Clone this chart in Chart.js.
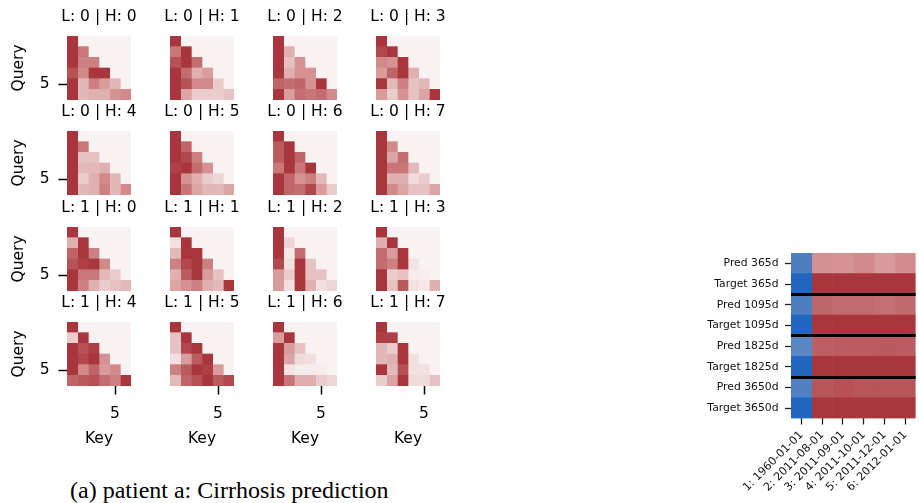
<!DOCTYPE html>
<html>
<head>
<meta charset="utf-8">
<script src="https://cdn.jsdelivr.net/npm/chart.js@4/dist/chart.umd.min.js"></script>
<style>
  html, body { margin: 0; padding: 0; background: #fff; }
  body { width: 919px; height: 503px; position: relative; overflow: hidden; }
  canvas { position: absolute; }
  #caption {
    position: absolute; left: 70px; top: 478px;
    font-family: "Liberation Serif", serif; font-size: 24px; line-height: 1;
    white-space: nowrap; color: #000;
  }
</style>
</head>
<body>
<div id="caption">(a) patient a: Cirrhosis prediction</div>
<script>
// ---- attention maps: query rows x key columns (lower triangle, causal) ----
const queryLabels = ['1', '2', '3', '4', '5', '6'];
const keyLabels = ['1', '2', '3', '4', '5', '6'];
const shownQueryTick = '5';
const shownKeyTick = '5';

const attnL0H0 = [[1.00], [1.00, 0.65], [1.00, 0.60, 0.60], [0.85, 0.55, 1.00, 1.00], [1.00, 0.30, 0.60, 0.45, 0.30], [1.00, 0.30, 0.35, 0.35, 0.50, 0.55]];
const attnL0H1 = [[1.00], [0.65, 1.00], [0.85, 1.00, 0.70], [1.00, 0.70, 0.35, 0.45], [1.00, 0.85, 0.55, 0.55, 0.20], [1.00, 0.40, 0.20, 0.20, 0.20, 0.25]];
const attnL0H2 = [[1.00], [1.00, 0.35], [1.00, 0.25, 0.50], [1.00, 0.35, 0.50, 0.50], [0.75, 0.70, 0.75, 0.50, 1.00], [1.00, 0.45, 0.70, 0.65, 0.70, 0.55]];
const attnL0H3 = [[1.00], [0.90, 1.00], [0.55, 0.50, 1.00], [0.45, 0.75, 1.00, 0.35], [1.00, 0.30, 0.60, 0.25, 0.30], [0.45, 0.20, 0.50, 0.25, 0.40, 1.00]];
const attnL0H4 = [[1.00], [1.00, 0.65], [1.00, 0.25, 0.25], [1.00, 0.30, 0.30, 0.35], [1.00, 0.20, 0.35, 0.55, 0.30], [1.00, 0.30, 0.35, 0.60, 0.30, 0.55]];
const attnL0H5 = [[1.00], [1.00, 0.75], [1.00, 0.90, 0.60], [0.95, 1.00, 0.70, 0.50], [1.00, 0.50, 0.35, 0.20, 0.15], [1.00, 0.65, 0.40, 0.30, 0.30, 0.40]];
const attnL0H6 = [[1.00], [0.80, 1.00], [0.80, 1.00, 0.75], [0.65, 1.00, 0.65, 1.00], [1.00, 0.75, 0.50, 0.60, 0.30], [1.00, 0.75, 0.70, 0.90, 0.45, 0.20]];
const attnL0H7 = [[1.00], [1.00, 0.55], [1.00, 0.40, 0.70], [1.00, 0.65, 0.65, 0.30], [1.00, 0.35, 0.35, 0.12, 0.20], [1.00, 0.55, 0.40, 0.25, 0.25, 0.40]];
const attnL1H0 = [[1.00], [0.35, 1.00], [0.75, 1.00, 0.60], [0.85, 0.95, 1.00, 0.55], [1.00, 0.65, 0.65, 0.30, 0.20], [1.00, 0.60, 0.35, 0.20, 0.25, 0.30]];
const attnL1H1 = [[1.00], [0.10, 1.00], [0.30, 1.00, 1.00], [0.60, 0.90, 1.00, 0.60], [0.35, 0.80, 1.00, 0.45, 0.25], [0.40, 0.50, 0.60, 0.35, 0.30, 1.00]];
const attnL1H2 = [[1.00], [1.00, 0.15], [1.00, 0.05, 0.70], [0.90, 0.10, 1.00, 0.25], [0.45, 0.20, 1.00, 0.25, 0.25], [0.45, 0.10, 1.00, 0.35, 0.10, 0.15]];
const attnL1H3 = [[1.00], [0.35, 1.00], [0.70, 0.45, 1.00], [0.70, 0.60, 1.00, 0.08], [1.00, 0.20, 0.25, 0.03, 0.02], [1.00, 0.25, 0.80, 0.08, 0.05, 0.35]];
const attnL1H4 = [[1.00], [0.20, 1.00], [1.00, 0.85, 0.95], [1.00, 0.90, 1.00, 0.50], [1.00, 0.55, 0.75, 0.45, 0.55], [0.75, 0.80, 0.85, 0.70, 0.60, 1.00]];
const attnL1H5 = [[1.00], [0.25, 1.00], [0.25, 0.90, 1.00], [0.10, 0.45, 0.80, 1.00], [0.60, 0.80, 1.00, 0.95, 0.45], [0.30, 0.75, 0.85, 1.00, 0.80, 0.90]];
const attnL1H6 = [[1.00], [0.45, 1.00], [1.00, 0.45, 0.25], [1.00, 0.40, 0.12, 0.10], [1.00, 0.08, 0.03, 0.03, 0.03], [1.00, 0.65, 0.35, 0.35, 0.20, 0.15]];
const attnL1H7 = [[1.00], [0.95, 0.95], [0.30, 0.20, 1.00], [0.30, 0.35, 1.00, 0.10], [1.00, 0.30, 0.85, 0.10, 0.10], [0.20, 0.40, 1.00, 0.12, 0.12, 0.25]];

const attention = [
  [attnL0H0, attnL0H1, attnL0H2, attnL0H3, attnL0H4, attnL0H5, attnL0H6, attnL0H7],
  [attnL1H0, attnL1H1, attnL1H2, attnL1H3, attnL1H4, attnL1H5, attnL1H6, attnL1H7]
];

// ---- outcome heatmap: predictions vs targets per horizon, per visit ----
const outcomeRows = ['Pred 365d', 'Target 365d', 'Pred 1095d', 'Target 1095d',
                     'Pred 1825d', 'Target 1825d', 'Pred 3650d', 'Target 3650d'];
const visitLabels = ['1: 1960-01-01', '2: 2011-08-01', '3: 2011-09-01',
                     '4: 2011-10-01', '5: 2011-12-01', '6: 2012-01-01'];
const pred365    = [-0.74, 0.51, 0.50, 0.55, 0.46, 0.53];
const target365  = [-1.00, 1.00, 1.00, 1.00, 1.00, 1.00];
const pred1095   = [-0.74, 0.74, 0.71, 0.71, 0.69, 0.72];
const target1095 = [-1.00, 1.00, 1.00, 1.00, 1.00, 1.00];
const pred1825   = [-0.67, 0.78, 0.79, 0.79, 0.80, 0.79];
const target1825 = [-1.00, 1.00, 1.00, 1.00, 1.00, 1.00];
const pred3650   = [-0.73, 0.83, 0.85, 0.83, 0.83, 0.83];
const target3650 = [-1.00, 1.00, 1.00, 1.00, 1.00, 1.00];
const outcomeValues = [pred365, target365, pred1095, target1095, pred1825, target1825, pred3650, target3650];
const pairBoundaries = [2, 4, 6];

// ---- diverging colour map (blue - near white - red) ----
const cmapStops = [
  [-1.0, [33, 102, 192]],
  [-0.5, [120, 150, 196]],
  [ 0.0, [249, 242, 242]],
  [ 0.5, [213, 146, 146]],
  [ 1.0, [168, 54, 60]]
];
function cmap(v) {
  v = Math.max(-1, Math.min(1, v));
  for (let i = 0; i < cmapStops.length - 1; i++) {
    const [a, ca] = cmapStops[i];
    const [b, cb] = cmapStops[i + 1];
    if (v <= b) {
      const t = (v - a) / (b - a);
      const c = ca.map((x, k) => Math.round(x + (cb[k] - x) * t));
      return `rgb(${c[0]},${c[1]},${c[2]})`;
    }
  }
  return 'rgb(168,54,60)';
}

Chart.defaults.font.family = '"DejaVu Sans", sans-serif';
Chart.defaults.color = '#000';

function addCanvas(left, top, w, h) {
  const c = document.createElement('canvas');
  c.width = w; c.height = h;
  c.style.left = left + 'px'; c.style.top = top + 'px';
  c.style.width = w + 'px'; c.style.height = h + 'px';
  document.body.appendChild(c);
  return c;
}

// ---- 4 x 4 grid of attention maps ----
// An empty right-hand axis mirrors the left one, so each panel title centres over its cells.
const FS = 15.5;
const panelLeft = [67, 170, 273, 376];
const panelTop = [36, 131, 227, 322];
const AXW = 60, AXH = 70, TITLEH = 30, CELLS = 64;

attention.forEach((heads, layer) => {
  heads.forEach((matrix, head) => {
    const k = layer * 8 + head;
    const gr = Math.floor(k / 4), gc = k % 4;
    const showQuery = gc === 0;
    const showKey = gr === 3;
    const canvas = addCanvas(panelLeft[gc] - AXW, panelTop[gr] - TITLEH,
                             AXW + CELLS + AXW, TITLEH + CELLS + AXH);
    const datasets = keyLabels.map((key, c) => ({
      label: key,
      data: queryLabels.map(() => 1),
      backgroundColor: queryLabels.map((q, r) => cmap(matrix[r][c] !== undefined ? matrix[r][c] : 0)),
      borderWidth: 0,
      barPercentage: 1,
      categoryPercentage: 1
    }));
    new Chart(canvas, {
      type: 'bar',
      data: { labels: queryLabels, datasets },
      options: {
        indexAxis: 'y',
        responsive: false,
        animation: false,
        devicePixelRatio: 1,
        layout: { padding: 0 },
        plugins: {
          legend: { display: false },
          tooltip: { enabled: false },
          title: {
            display: true,
            text: `L: ${layer} | H: ${head}`,
            color: '#000',
            font: { size: FS, weight: 'normal', lineHeight: 1.2 },
            padding: { top: 1.5, bottom: 9.9 }
          }
        },
        scales: {
          x: {
            type: 'linear', min: 0, max: keyLabels.length, stacked: true,
            afterBuildTicks: s => {
              s.ticks = keyLabels.map((key, i) => ({ value: i + 0.5 }))
                                 .filter((t, i) => keyLabels[i] === shownKeyTick);
            },
            ticks: { display: showKey, autoSkip: false, maxRotation: 0, color: '#000',
                     font: { size: FS }, padding: 10.5,
                     callback: v => keyLabels[Math.floor(v)] },
            grid: { display: showKey, drawOnChartArea: false, tickLength: 8.5,
                    tickWidth: 1.5, tickColor: '#000' },
            border: { display: false },
            title: { display: showKey, text: 'Key', color: '#000',
                     font: { size: FS }, padding: { top: 0, bottom: 7.8 } },
            afterFit: s => { s.height = AXH; }
          },
          y: {
            type: 'category', stacked: true, offset: true,
            afterBuildTicks: s => {
              s.ticks = s.ticks.filter(t => queryLabels[t.value] === shownQueryTick);
            },
            ticks: { display: showQuery, color: '#000', font: { size: FS }, padding: 9 },
            grid: { display: showQuery, offset: false, drawOnChartArea: false,
                    tickLength: 8.5, tickWidth: 1.5, tickColor: '#000' },
            border: { display: false },
            title: { display: showQuery, text: 'Query', color: '#000',
                     font: { size: FS }, padding: { top: 2.5, bottom: 0 } },
            afterFit: s => { s.width = AXW; }
          },
          yRight: {
            type: 'category', axis: 'y', position: 'right', labels: queryLabels,
            ticks: { display: false },
            grid: { display: false },
            border: { display: false },
            afterFit: s => { s.width = AXW; }
          }
        }
      }
    });
  });
});

// ---- outcome heatmap on the right ----
const outCanvas = addCanvas(690, 240, 229, 263);
new Chart(outCanvas, {
  type: 'bar',
  data: {
    labels: outcomeRows,
    datasets: visitLabels.map((visit, c) => ({
      label: visit,
      data: outcomeRows.map(() => 1),
      backgroundColor: outcomeValues.map(row => cmap(row[c])),
      borderWidth: 0,
      barPercentage: 1,
      categoryPercentage: 1
    }))
  },
  options: {
    indexAxis: 'y',
    responsive: false,
    animation: false,
    devicePixelRatio: 1,
    layout: { padding: { top: 12, left: 0, right: 3, bottom: 0 } },
    plugins: { legend: { display: false }, tooltip: { enabled: false } },
    scales: {
      x: {
        type: 'linear', min: 0, max: visitLabels.length, stacked: true,
        afterBuildTicks: s => { s.ticks = visitLabels.map((v, i) => ({ value: i + 0.5 })); },
        ticks: { autoSkip: false, minRotation: 45, maxRotation: 45, color: '#111',
                 font: { size: 11.2 }, padding: 4,
                 callback: v => visitLabels[Math.floor(v)] },
        grid: { drawOnChartArea: false, tickLength: 6, tickWidth: 1.3, tickColor: '#222' },
        border: { display: false },
        afterFit: s => { s.height = 84.5; }
      },
      y: {
        type: 'category', stacked: true, offset: true,
        ticks: { autoSkip: false, color: '#111', font: { size: 10.8 }, padding: 6.5 },
        grid: { offset: false, drawOnChartArea: false, tickLength: 6, tickWidth: 1.3, tickColor: '#222' },
        border: { display: false },
        afterFit: s => { s.width = 101; }
      },
      sep: {
        type: 'category', axis: 'y', position: 'left', labels: outcomeRows, offset: true,
        ticks: { display: false },
        grid: { offset: true, drawTicks: false, z: 1, lineWidth: 3,
                color: ctx => pairBoundaries.includes(ctx.index) ? '#000' : 'rgba(0,0,0,0)' },
        border: { display: false },
        afterFit: s => { s.width = 0; }
      }
    }
  }
});
</script>
</body>
</html>
